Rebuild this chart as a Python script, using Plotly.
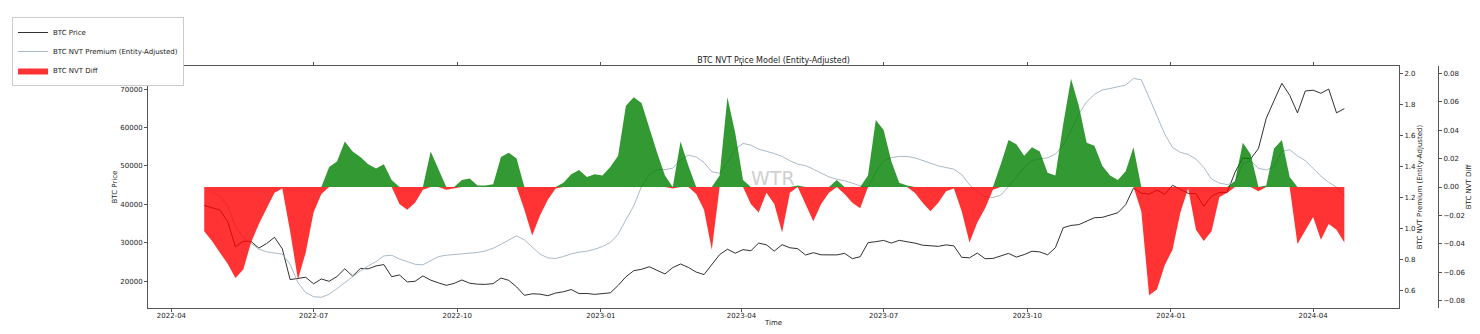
import pandas as pd
import plotly.graph_objects as go

# ---------------- data (5-day samples, 2022-04-22 .. 2024-04-21) ----------------
start_date = "2022-04-22"
n_points = 147
dates = pd.date_range(start_date, periods=n_points, freq="5D")

btc_price = [
    39700, 39200, 38500, 35500, 28900, 30400, 30300, 28600, 29800, 31400,
    28400, 20400, 20700, 21000, 19300, 20550, 19950, 21200, 23200, 21300,
    23300, 23200, 23950, 24300, 21150, 21600, 19800, 19950, 21350, 20250,
    19550, 18900, 19400, 20300, 19450, 19200, 19150, 19350, 20800, 20200,
    18500, 16300, 16700, 16600, 16200, 16900, 17230, 17800, 16750, 16780,
    16550, 16680, 16950, 18850, 21130, 22700, 23080, 23730, 22760, 21860,
    23520, 24450, 23560, 22350, 21700, 24200, 26900, 28300, 27270, 28200,
    27900, 29900, 29450, 27800, 29480, 28680, 28450, 26800, 27400, 26850,
    26870, 26820, 27230, 25850, 26340, 30000, 30270, 30590, 29900, 30620,
    30250, 29900, 29350, 29230, 29050, 29430, 29170, 26190, 26060, 27300,
    25830, 25900, 26530, 27210, 26250, 26900, 27780, 27600, 26850, 28700,
    33900, 34500, 34700, 35650, 36500, 36600, 37300, 37800, 39900, 44200,
    42900, 42650, 43700, 42600, 44950, 43950, 42850, 42750, 39500, 42130,
    43100, 43100, 48300, 52100, 51800, 54500, 62400, 67000, 71500, 68400,
    63800, 69500, 69700, 68900, 70000, 63800, 64900,
]

nvt_premium = [
    None, 1.234, 1.213, 1.148, 1.015, 0.944, 0.908, 0.869, 0.852, 0.843,
    0.837, 0.772, 0.654, 0.589, 0.563, 0.559, 0.579, 0.615, 0.654, 0.692,
    0.729, 0.761, 0.789, 0.826, 0.830, 0.806, 0.789, 0.772, 0.768, 0.794,
    0.822, 0.830, 0.835, 0.837, 0.841, 0.848, 0.858, 0.875, 0.901, 0.929,
    0.955, 0.929, 0.880, 0.837, 0.813, 0.809, 0.822, 0.839, 0.850, 0.856,
    0.869, 0.886, 0.912, 0.966, 1.059, 1.148, 1.273, 1.352, 1.380, 1.382,
    1.391, 1.445, 1.475, 1.464, 1.428, 1.368, 1.359, 1.428, 1.514, 1.551,
    1.540, 1.514, 1.500, 1.486, 1.467, 1.439, 1.417, 1.408, 1.385, 1.359,
    1.335, 1.320, 1.310, 1.295, 1.277, 1.267, 1.364, 1.439, 1.460, 1.467,
    1.467, 1.458, 1.443, 1.424, 1.406, 1.394, 1.385, 1.350, 1.284, 1.239,
    1.209, 1.202, 1.217, 1.273, 1.335, 1.396, 1.439, 1.452, 1.458, 1.482,
    1.540, 1.632, 1.740, 1.819, 1.867, 1.895, 1.905, 1.914, 1.927, 1.970,
    1.961, 1.847, 1.729, 1.611, 1.525, 1.493, 1.480, 1.450, 1.396, 1.321,
    1.295, 1.286, 1.300, 1.420, 1.440, 1.390, 1.380, 1.400, 1.500, 1.510,
    1.470, 1.440, 1.390, 1.340, 1.300, 1.270, 1.210,
]

nvt_diff = [
    -0.031, -0.038, -0.046, -0.054, -0.064, -0.058, -0.039, -0.026, -0.015, -0.004,
    -0.001, -0.031, -0.065, -0.046, -0.018, -0.005, 0.014, 0.018, 0.032, 0.025,
    0.021, 0.016, 0.013, 0.016, 0.005, -0.012, -0.016, -0.011, -0.002, 0.025,
    0.012, -0.002, -0.001, 0.005, 0.006, 0.001, 0.001, 0.002, 0.021, 0.024,
    0.020, -0.016, -0.034, -0.020, -0.009, -0.001, 0.003, 0.009, 0.012, 0.007,
    0.009, 0.008, 0.014, 0.022, 0.057, 0.063, 0.059, 0.041, 0.024, 0.008,
    -0.001, 0.032, 0.015, -0.005, -0.016, -0.044, 0.008, 0.063, 0.038, 0.005,
    -0.012, -0.018, -0.004, -0.012, -0.032, -0.004, 0.001, -0.012, -0.024, -0.012,
    -0.004, 0.005, -0.005, -0.011, -0.015, 0.008, 0.047, 0.040, 0.018, 0.003,
    0.001, -0.004, -0.011, -0.017, -0.011, -0.003, -0.001, -0.017, -0.039, -0.025,
    -0.015, -0.002, 0.016, 0.033, 0.030, 0.022, 0.028, 0.025, 0.010, 0.008,
    0.044, 0.076, 0.057, 0.031, 0.029, 0.015, 0.008, 0.005, 0.011, 0.028,
    -0.017, -0.076, -0.072, -0.055, -0.044, -0.018, -0.001, -0.030, -0.038, -0.031,
    -0.007, -0.004, 0.004, 0.031, 0.023, -0.003, 0.001, 0.027, 0.033, 0.007,
    -0.040, -0.030, -0.021, -0.037, -0.026, -0.030, -0.039,
]

diff_pos = [max(v, 0.0) for v in nvt_diff]
diff_neg = [min(v, 0.0) for v in nvt_diff]

FONT = "DejaVu Sans"
AX = "#555555"
TXT = "#222222"

fig = go.Figure()
fig.add_trace(go.Scatter(
    x=dates, y=btc_price, name="BTC Price", mode="lines",
    line=dict(color="#1a1a1a", width=0.9), yaxis="y"))
fig.add_trace(go.Scatter(
    x=dates, y=nvt_premium, name="BTC NVT Premium (Entity-Adjusted)", mode="lines",
    line=dict(color="#9fb2bf", width=0.9), yaxis="y2"))
fig.add_trace(go.Scatter(
    x=dates, y=diff_neg, name="BTC NVT Diff", mode="lines", fill="tozeroy",
    line=dict(width=0, color="rgba(255,0,0,0.8)"), fillcolor="rgba(255,0,0,0.8)",
    yaxis="y3"))
fig.add_trace(go.Scatter(
    x=dates, y=diff_pos, name="BTC NVT Diff (+)", mode="lines", fill="tozeroy",
    line=dict(width=0, color="rgba(0,128,0,0.8)"), fillcolor="rgba(0,128,0,0.8)",
    yaxis="y3", showlegend=False))

W, H = 1480, 334
L, R, T, B = 148, 42, 66, 26
paper_w = W - L - R
plot_right = 1399
xdom = (plot_right - L) / paper_w

tickfont = dict(family=FONT, size=7, color=TXT)
titlefont = dict(family=FONT, size=7, color=TXT)

fig.update_layout(
    width=W, height=H,
    margin=dict(l=L, r=R, t=T, b=B, autoexpand=False),
    paper_bgcolor="white", plot_bgcolor="white",
    font=dict(family=FONT, size=7, color=TXT),
    title=dict(text="BTC NVT Price Model (Entity-Adjusted)",
               x=(773.5 - L) / paper_w, xref="paper", xanchor="center",
               y=1 - 60 / H, yref="container", yanchor="middle",
               font=dict(family=FONT, size=8, color=TXT)),
    showlegend=True,
    legend=dict(x=(12 - L) / paper_w, xanchor="left", y=(H - B - 17) / (H - T - B),
                yanchor="top", bgcolor="white", bordercolor="#cccccc", borderwidth=1,
                font=dict(family=FONT, size=7, color=TXT), itemwidth=30,
                tracegroupgap=0),
    xaxis=dict(type="date", domain=[0, xdom], range=["2022-03-17", "2024-05-26"],
               dtick="M3", tick0="2022-01-01", tickformat="%Y-%m",
               ticks="outside", ticklen=3, tickcolor=AX, showline=True,
               linecolor=AX, linewidth=1, mirror="ticks", showgrid=False,
               zeroline=False, tickfont=tickfont, ticklabelstandoff=-2,
               title=dict(text="Time", font=titlefont, standoff=0)),
    yaxis=dict(range=[13000, 76000], dtick=10000, tick0=0, tickformat="d",
               ticks="outside", ticklen=3, tickcolor=AX, showline=True,
               linecolor=AX, linewidth=1, mirror=True, showgrid=False,
               zeroline=False, tickfont=tickfont,
               title=dict(text="BTC Price", font=titlefont, standoff=1)),
    yaxis2=dict(overlaying="y", side="right", anchor="x",
                range=[0.49, 2.05], dtick=0.2, tick0=0, tickformat=".1f",
                ticks="outside", ticklen=3, tickcolor=AX, showline=True,
                linecolor=AX, linewidth=1, showgrid=False, zeroline=False,
                tickfont=tickfont,
                title=dict(text="BTC NVT Premium (Entity-Adjusted)", font=titlefont,
                           standoff=1)),
    yaxis3=dict(overlaying="y", side="right", anchor="free", position=1.0,
                range=[-0.085, 0.085], dtick=0.02, tick0=0, tickformat=".2f",
                ticks="outside", ticklen=3, tickcolor=AX, showline=True,
                linecolor=AX, linewidth=1, showgrid=False, zeroline=False,
                tickfont=tickfont,
                title=dict(text="BTC NVT Diff", font=titlefont, standoff=1)),
    annotations=[dict(text="WTR", x=(773 - L) / paper_w, y=(H - B - 178) / (H - T - B),
                      xref="paper", yref="paper", showarrow=False,
                      font=dict(family=FONT, size=19, color="#d0d0d0"))],
)

fig.write_html("out.html")
